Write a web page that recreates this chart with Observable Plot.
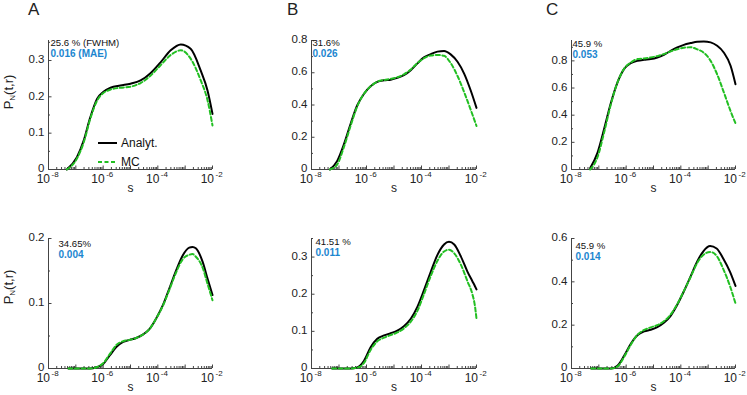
<!DOCTYPE html>
<html><head><meta charset="utf-8">
<script src="https://cdn.jsdelivr.net/npm/d3@7"></script>
<script src="https://cdn.jsdelivr.net/npm/@observablehq/plot@0.6"></script>
<style>
html,body{margin:0;padding:0;background:#fff;}
#chart{position:relative;width:747px;height:395px;overflow:hidden;font-family:"Liberation Sans",Arial,Helvetica,sans-serif;color:#222;}
.letter{position:absolute;font-size:17px;line-height:17px;}
.ylab{position:absolute;font-size:13px;white-space:nowrap;transform:translate(-50%,-50%) rotate(-90deg);}
.ylab sub{font-size:8px;vertical-align:-2px;}
.legend{position:absolute;font-size:12px;}
#chart svg.panel{position:absolute;overflow:visible;}
</style></head><body><div id="chart"></div>
<script>
// ---------- data (log10 of s) ----------
const aTopLogS   = [-7.33,-6.96,-6.71,-6.47,-6.22,-6.0,-5.73,-5.37,-5.0,-4.63,-4.27,-3.9,-3.53,-3.16,-2.8,-2.43,-2.18,-2.0];
const aTopAnalyt = [0,0.034,0.08,0.144,0.195,0.213,0.225,0.231,0.236,0.245,0.265,0.295,0.328,0.344,0.332,0.272,0.217,0.153];
const aTopMC     = [0,0.03,0.075,0.14,0.19,0.21,0.22,0.225,0.228,0.238,0.258,0.287,0.315,0.328,0.305,0.245,0.19,0.121];

const bTopLogS   = [-7.33,-7.07,-6.82,-6.58,-6.34,-6.09,-5.85,-5.61,-5.36,-5.12,-4.88,-4.64,-4.39,-4.15,-3.91,-3.66,-3.42,-3.18,-2.94,-2.69,-2.45,-2.21,-2.0];
const bTopAnalyt = [0,0.052,0.157,0.282,0.397,0.47,0.516,0.543,0.553,0.557,0.568,0.585,0.616,0.658,0.695,0.716,0.731,0.735,0.714,0.668,0.595,0.49,0.382];
const bTopMC     = [0,0.03,0.14,0.27,0.39,0.47,0.515,0.545,0.555,0.562,0.572,0.59,0.62,0.66,0.69,0.707,0.71,0.705,0.66,0.58,0.48,0.37,0.27];

const cTopLogS   = [-7.32,-7.05,-6.81,-6.56,-6.32,-6.08,-5.83,-5.59,-5.35,-5.1,-4.86,-4.62,-4.37,-4.13,-3.89,-3.64,-3.4,-3.16,-2.91,-2.67,-2.43,-2.18,-2.0];
const cTopAnalyt = [0.01,0.123,0.296,0.49,0.64,0.739,0.783,0.8,0.808,0.813,0.825,0.845,0.874,0.899,0.918,0.931,0.941,0.943,0.936,0.911,0.862,0.764,0.628];
const cTopMC     = [0,0.09,0.27,0.48,0.64,0.74,0.788,0.813,0.818,0.825,0.835,0.85,0.87,0.885,0.897,0.9,0.885,0.86,0.8,0.7,0.57,0.43,0.34];

const aBotLogS   = [-7.27,-6.73,-6.49,-6.24,-6.0,-5.76,-5.52,-5.27,-5.03,-4.79,-4.55,-4.3,-4.06,-3.82,-3.58,-3.33,-3.09,-2.85,-2.73,-2.61,-2.36,-2.18,-2.0];
const aBotAnalyt = [0,0,0,0.002,0.007,0.02,0.033,0.041,0.044,0.047,0.052,0.061,0.077,0.097,0.123,0.151,0.174,0.186,0.187,0.185,0.164,0.138,0.113];
const aBotMC     = [0,0,0,0.002,0.008,0.022,0.036,0.042,0.044,0.047,0.052,0.061,0.077,0.096,0.121,0.148,0.168,0.175,0.176,0.172,0.155,0.13,0.105];

const bBotLogS   = [-7.25,-6.58,-6.34,-6.09,-5.85,-5.61,-5.36,-5.12,-4.88,-4.64,-4.39,-4.15,-3.91,-3.66,-3.42,-3.18,-3.0,-2.81,-2.57,-2.33,-2.15,-2.06,-2.0];
const bBotAnalyt = [0,0,0.003,0.021,0.057,0.08,0.089,0.095,0.102,0.114,0.134,0.166,0.211,0.261,0.306,0.334,0.341,0.334,0.302,0.261,0.235,0.222,0.213];
const bBotMC     = [0,0,0.002,0.015,0.05,0.073,0.083,0.09,0.097,0.108,0.126,0.155,0.2,0.25,0.29,0.315,0.32,0.31,0.28,0.235,0.2,0.17,0.134];

const cBotLogS   = [-7.28,-6.55,-6.31,-6.07,-5.83,-5.59,-5.34,-5.1,-4.86,-4.62,-4.38,-4.14,-3.9,-3.65,-3.41,-3.17,-2.93,-2.69,-2.45,-2.2,-2.0];
const cBotAnalyt = [0,0,0.014,0.06,0.114,0.153,0.171,0.179,0.191,0.211,0.242,0.292,0.353,0.423,0.492,0.542,0.565,0.554,0.508,0.446,0.381];
const cBotMC     = [0,0,0.01,0.055,0.11,0.155,0.178,0.19,0.2,0.218,0.248,0.295,0.355,0.42,0.485,0.525,0.538,0.52,0.46,0.38,0.3];

const fwhmLabels = ["25.6 % (FWHM)","31.6%","45.9 %","34.65%","41.51 %","45.9 %"];
const maeLabels  = ["0.016 (MAE)","0.026","0.053","0.004","0.011","0.014"];
const panelLetters = ["A","B","C"];
const xMajorExp = [-8,-6,-4,-2];
const yTicksList = [[0,0.1,0.2,0.3],[0,0.2,0.4,0.6,0.8],[0,0.2,0.4,0.6,0.8],[0,0.1,0.2],[0,0.1,0.2,0.3],[0,0.2,0.4,0.6]];
const yMinorList = [[0.05,0.15,0.25,0.35],[0.1,0.3,0.5,0.7],[0.1,0.3,0.5,0.7,0.9],[0.05,0.15],[0.05,0.15,0.25,0.35],[0.1,0.3,0.5]];
const yMaxList = [0.355,0.8,0.95,0.2,0.35,0.6];

// ---------- layout ----------
const FONT = '"Liberation Sans", Arial, Helvetica, sans-serif';
const AX = "#444";
const GREEN = "#22bf22";
const BLUE = "#1c86cf";
const colX = [[48,212],[311,476],[571,735]];
const rowY = [[40,169],[238,368]];
const ML = 40, MR = 14, MT = 8, MB = 30;

const series = [
  [aTopLogS,aTopAnalyt,aTopMC],[bTopLogS,bTopAnalyt,bTopMC],[cTopLogS,cTopAnalyt,cTopMC],
  [aBotLogS,aBotAnalyt,aBotMC],[bBotLogS,bBotAnalyt,bBotMC],[cBotLogS,cBotAnalyt,cBotMC]
];
const annOffset = [[2,-1],[1,-1],[1,0],[10,2],[4,0],[4,4]];

const xMajor = d3.range(-8,-1).map(e => Math.pow(10,e));
const xMinor = [];
for (let e=-8; e<-2; e++) for (let k=2; k<10; k++) xMinor.push(k*Math.pow(10,e));

const chart = document.getElementById("chart");

series.forEach(([ls, an, mc], i) => {
  const col = i % 3, row = Math.floor(i/3);
  const [x0,x1] = colX[col], [y0,y1] = rowY[row];
  const pw = x1-x0, ph = y1-y0;
  const dataA = ls.map((l,j) => ({s: Math.pow(10,l), v: an[j]}));
  const dataM = ls.map((l,j) => ({s: Math.pow(10,l), v: mc[j]}));
  const labDy = 13.5;
  const [adx, ady] = annOffset[i];
  const svg = Plot.plot({
    width: pw+ML+MR, height: ph+MT+MB,
    marginLeft: ML, marginRight: MR, marginTop: MT, marginBottom: MB,
    style: {fontFamily: FONT, background: "transparent", overflow: "visible", color: "#222"},
    x: {type: "log", domain: [1e-8,1e-2], axis: null},
    y: {domain: [0, yMaxList[i]], axis: null},
    marks: [
      Plot.ruleX([1e-8], {stroke: AX, strokeWidth: 1}),
      Plot.ruleY([0], {stroke: AX, strokeWidth: 1}),
      Plot.tickX(xMajor, {x: d=>d, stroke: AX, insetTop: ph-3.5}),
      Plot.tickX(xMinor, {x: d=>d, stroke: AX, insetTop: ph-2}),
      Plot.tickY(yTicksList[i], {y: d=>d, stroke: AX, insetRight: pw-3.5}),
      Plot.tickY(yMinorList[i], {y: d=>d, stroke: AX, insetRight: pw-2}),
      Plot.text(yTicksList[i], {y: d=>d, text: d=>String(d), frameAnchor: "left", textAnchor: "end", dx: -4, dy: -1, fontSize: 11.5, fill: "#222"}),
      Plot.text(xMajorExp, {x: e=>Math.pow(10,e), text: ()=>"10", frameAnchor: "bottom", textAnchor: "end", dx: 1.5, dy: labDy, fontSize: 12, fill: "#222"}),
      Plot.text(xMajorExp, {x: e=>Math.pow(10,e), text: e=>String(e), frameAnchor: "bottom", textAnchor: "start", dx: 3, dy: labDy-6, fontSize: 8, fill: "#222"}),
      Plot.text(["s"], {frameAnchor: "bottom", dy: 22, fontSize: 12, fill: "#222"}),
      Plot.line(dataA, {x: "s", y: "v", stroke: "black", strokeWidth: 2, curve: "monotone-x"}),
      Plot.line(dataM, {x: "s", y: "v", stroke: GREEN, strokeWidth: 2, strokeDasharray: "4,2.5", curve: "monotone-x"}),
      Plot.text([fwhmLabels[i]], {frameAnchor: "top-left", textAnchor: "start", lineAnchor: "top", dx: adx, dy: ady, fontSize: 9.6, fill: "#111"}),
      Plot.text([maeLabels[i]], {frameAnchor: "top-left", textAnchor: "start", lineAnchor: "top", dx: adx, dy: ady+10, fontSize: 10, fontWeight: "bold", fill: BLUE})
    ]
  });
  svg.classList.add("panel");
  svg.style.left = (x0-ML) + "px";
  svg.style.top = (y0-MT) + "px";
  chart.appendChild(svg);
});

// panel letters
const letterX = [28,287,546];
panelLetters.forEach((t,k) => {
  const d = document.createElement("div");
  d.className = "letter"; d.textContent = t;
  d.style.left = letterX[k] + "px"; d.style.top = "1px";
  chart.appendChild(d);
});

// y labels
[92,287].forEach(cy => {
  const d = document.createElement("div");
  d.className = "ylab";
  d.innerHTML = "P<sub>N</sub>(t,r)";
  d.style.left = "9px"; d.style.top = cy + "px";
  chart.appendChild(d);
});

// legend (panel A, top)
const leg = document.createElement("div");
leg.className = "legend";
leg.style.left = "97px"; leg.style.top = "134px";
leg.innerHTML = `<svg width="80" height="38" style="overflow:visible">
<line x1="1" x2="20" y1="9" y2="9" stroke="black" stroke-width="2"/>
<text x="24" y="13.3" font-size="12" font-family='${FONT}' fill="#111">Analyt.</text>
<line x1="1" x2="20" y1="28" y2="28" stroke="${GREEN}" stroke-width="2" stroke-dasharray="4,2.5"/>
<text x="24" y="32.3" font-size="12" font-family='${FONT}' fill="#111">MC</text>
</svg>`;
chart.appendChild(leg);
</script></body></html>
